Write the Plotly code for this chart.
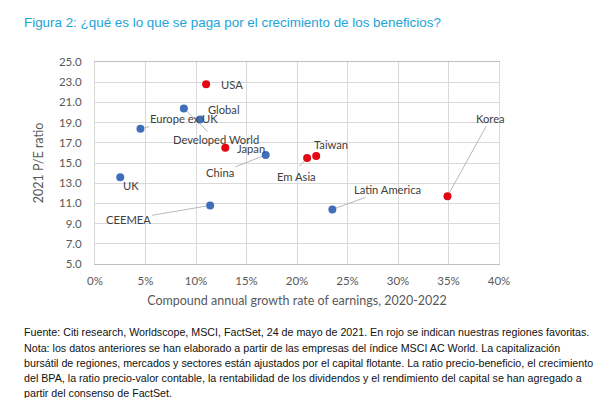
import plotly.graph_objects as go

# ---- data ----
blue_names = ["Developed World", "Global", "Europe ex UK", "China", "UK", "CEEMEA", "Latin America"]
blue_growth = [0.088, 0.104, 0.045, 0.169, 0.025, 0.114, 0.235]
blue_pe = [20.4, 19.3, 18.4, 15.8, 13.6, 10.8, 10.4]

red_names = ["USA", "Japan", "Em Asia", "Taiwan", "Korea"]
red_growth = [0.110, 0.129, 0.210, 0.219, 0.349]
red_pe = [22.8, 16.5, 15.5, 15.7, 11.7]

x_ticks = [0, 0.05, 0.10, 0.15, 0.20, 0.25, 0.30, 0.35, 0.40]
y_ticks = [5, 7, 9, 11, 13, 15, 17, 19, 21, 23, 25]

title_text = "Figura 2: ¿qué es lo que se paga por el crecimiento de los beneficios?"
x_title = "Compound annual growth rate of earnings, 2020-2022"
y_title = "2021 P/E ratio"
footnote_lines = [
    "Fuente: Citi research, Worldscope, MSCI, FactSet, 24 de mayo de 2021. En rojo se indican nuestras regiones favoritas.",
    "Nota: los datos anteriores se han elaborado a partir de las empresas del índice MSCI AC World. La capitalización",
    "bursátil de regiones, mercados y sectores están ajustados por el capital flotante. La ratio precio-beneficio, el crecimiento",
    "del BPA, la ratio precio-valor contable, la rentabilidad de los dividendos y el rendimiento del capital se han agregado a",
    "partir del consenso de FactSet.",
]

# label placement (pixel offsets; leader = draw a connector line)
label_style = {
    "USA": dict(leader=False, xshift=13, yshift=0),
    "Global": dict(leader=False, xshift=6, yshift=10),
    "Japan": dict(leader=False, xshift=10, yshift=-1),
    "Taiwan": dict(leader=False, xshift=-4, yshift=11),
    "UK": dict(leader=False, xshift=1, yshift=-8),
    "Developed World": dict(leader=True, ax=32, ay=31),
    "Europe ex UK": dict(leader=True, ax=44, ay=-10),
    "China": dict(leader=True, ax=-46, ay=18),
    "Em Asia": dict(leader="split", ax=-11, ay=19, lx=-9, ly=10),
    "CEEMEA": dict(leader=True, ax=-82, ay=14),
    "Latin America": dict(leader=True, ax=55, ay=-20),
    "Korea": dict(leader=True, ax=43, ay=-78),
}

BLUE = "#3F6FBA"
RED = "#E30613"
GRID = "#D9D9D9"
TXT = "#595959"
LBL = "#404040"
LEAD = "#A6A6A6"
CHART_FONT = "Lato, Carlito, Calibri, sans-serif"
PLAIN = "Liberation Sans, Arial, sans-serif"

plot_l, plot_r, plot_t, plot_b = 95, 499, 62, 264
W, H = 610, 398
pw, ph = plot_r - plot_l, plot_b - plot_t


def px_to_paper(px, py):
    return (px - plot_l) / pw, (plot_b - py) / ph


fig = go.Figure()
fig.add_trace(go.Scatter(x=blue_growth, y=blue_pe, mode="markers", name="Others",
                         marker=dict(color=BLUE, size=8), hoverinfo="text", text=blue_names))
fig.add_trace(go.Scatter(x=red_growth, y=red_pe, mode="markers", name="Favourites",
                         marker=dict(color=RED, size=8), hoverinfo="text", text=red_names))

lbl_font = dict(family=CHART_FONT, size=11.2, color=LBL)
annotations = []
for names, xs, ys in [(blue_names, blue_growth, blue_pe), (red_names, red_growth, red_pe)]:
    for n, xv, yv in zip(names, xs, ys):
        st = label_style[n]
        if st["leader"] == "split":
            # text placed by shift, leader drawn as a separate text-less arrow
            annotations.append(dict(x=xv, y=yv, xref="x", yref="y", text=n,
                                    showarrow=False, xanchor="center", yanchor="middle",
                                    xshift=st["ax"], yshift=-st["ay"], font=lbl_font))
            annotations.append(dict(x=xv, y=yv, xref="x", yref="y", text="",
                                    showarrow=True, arrowhead=0, arrowwidth=0.8,
                                    arrowcolor=LEAD, ax=st["lx"], ay=st["ly"],
                                    axref="pixel", ayref="pixel", standoff=4))
        elif st["leader"]:
            annotations.append(dict(x=xv, y=yv, xref="x", yref="y", text=n,
                                    showarrow=True, arrowhead=0, arrowwidth=0.8,
                                    arrowcolor=LEAD, ax=st["ax"], ay=st["ay"],
                                    axref="pixel", ayref="pixel",
                                    standoff=4, font=lbl_font))
        else:
            annotations.append(dict(x=xv, y=yv, xref="x", yref="y", text=n,
                                    showarrow=False, xanchor="left", yanchor="middle",
                                    xshift=st["xshift"], yshift=st["yshift"], font=lbl_font))

# title
tx, ty = px_to_paper(22, 22)
annotations.append(dict(x=tx, y=ty, xref="paper", yref="paper", text=title_text,
                        showarrow=False, xanchor="left", yanchor="middle",
                        font=dict(family=PLAIN, size=13.4, color="#22A3D8")))

line_y = [332, 347.5, 362.5, 377.5, 392.5]
for line, yy in zip(footnote_lines, line_y):
    fx, fy = px_to_paper(22, yy)
    annotations.append(dict(x=fx, y=fy, xref="paper", yref="paper", text=line,
                            showarrow=False, xanchor="left", yanchor="middle",
                            font=dict(family=PLAIN, size=10.7, color="#111111")))

fig.update_layout(
    width=W, height=H,
    margin=dict(l=plot_l, r=W - plot_r, t=plot_t, b=H - plot_b, autoexpand=False),
    paper_bgcolor="white", plot_bgcolor="white",
    showlegend=False,
    xaxis=dict(range=[0, 0.40], tickvals=x_ticks, tickformat=".0%", automargin=False,
               showgrid=True, gridcolor=GRID, gridwidth=1, zeroline=False,
               showline=True, linecolor="#BFBFBF", linewidth=1, mirror=True,
               ticks="", ticklabelstandoff=6,
               tickfont=dict(family=CHART_FONT, size=11.5, color=TXT),
               title=dict(text=x_title, font=dict(family=CHART_FONT, size=12.5, color=TXT), standoff=10)),
    yaxis=dict(range=[5, 25], tickvals=y_ticks, tickformat=".1f", automargin=False,
               showgrid=True, gridcolor=GRID, gridwidth=1, zeroline=False,
               showline=True, linecolor=GRID, linewidth=1, mirror=True,
               ticks="", ticklabelstandoff=10,
               tickfont=dict(family=CHART_FONT, size=11.5, color=TXT),
               title=dict(text=y_title, font=dict(family=CHART_FONT, size=12.5, color=TXT), standoff=12)),
    annotations=annotations,
)

fig.write_html("out.html", config={"displayModeBar": False},
               post_script="document.body.style.margin='0';document.body.style.overflow='hidden';")
